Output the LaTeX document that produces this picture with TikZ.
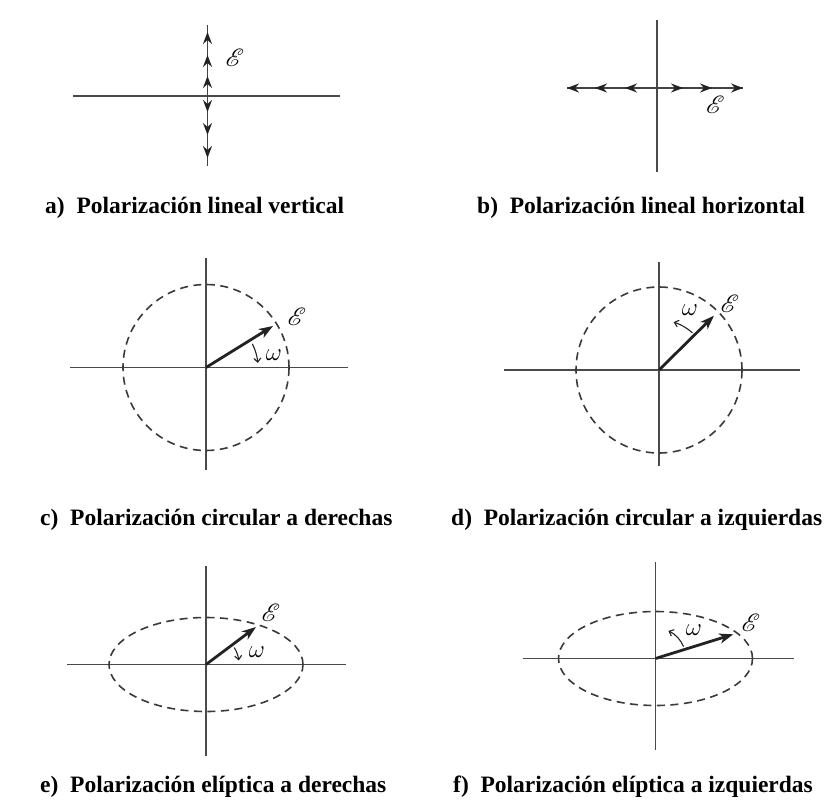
\documentclass[tikz,border=0pt]{standalone}
\usepackage{fontspec}
\setmainfont{Liberation Serif}
\usepackage{mathrsfs}
\usetikzlibrary{arrows.meta}
\definecolor{caxis}{HTML}{4A4A4A}
\definecolor{cdark}{HTML}{222222}
\definecolor{cdash}{HTML}{3A3A3A}
\tikzset{
  axline/.style={caxis, line width=1.9pt},
  fieldline/.style={cdark!85, line width=1.9pt},
  fieldtip/.style={cdark, line width=1.9pt, -{Stealth[length=12pt, width=9pt, inset=4pt]}},
  efield/.style={cdark, line width=2.8pt, -{Stealth[length=14pt, width=10pt, inset=4pt]}},
  orbit/.style={cdash, line width=1.6pt, dash pattern=on 8pt off 5.5pt},
  spin/.style={cdark, line width=1.1pt, -{Straight Barb[length=4pt, width=7pt]}},
  caption/.style={anchor=base west, inner sep=0pt, font=\fontsize{23.5}{28}\selectfont\bfseries},
  lbl/.style={inner sep=0pt, font=\fontsize{28}{28}\selectfont},
}
\begin{document}
\begin{tikzpicture}[x=1pt, y=1pt]
\useasboundingbox (0,0) rectangle (835,-803);

\coordinate (oa) at (207.5,-95.7);
\draw[axline] (73,-95.7) -- (340,-95.7);
\draw[fieldline] (207.5,-25) -- (207.5,-166);
\foreach \t in {32,55,76} \draw[fieldtip] (207.5,-\t-4) -- (207.5,-\t);
\foreach \t in {112,135,158} \draw[fieldtip] (207.5,-\t+4) -- (207.5,-\t);
\node[lbl] (ea) at (235,-58) {$\mathscr{E}$};

\coordinate (ob) at (657,-88);
\draw[axline] (657,-20) -- (657,-172);
\draw[fieldline] (567,-88) -- (743,-88);
\foreach \t in {567,595,625} \draw[fieldtip] (\t+4,-88) -- (\t,-88);
\foreach \t in {683,712,743} \draw[fieldtip] (\t-4,-88) -- (\t,-88);
\node[lbl] (eb) at (715.5,-105) {$\mathscr{E}$};

\coordinate (oc) at (206,-367.5);
\coordinate (tc) at (273,-326);
\draw[axline] (70,-367.5) -- (348,-367.5);
\draw[axline] (206,-258) -- (206,-470);
\draw[orbit] (oc) circle[radius=83];
\draw[efield] (oc) -- (tc);
\draw[spin] (oc) ++(27:52) arc[start angle=27, end angle=5, radius=52];
\node[lbl] (ec) at (297,-317) {$\mathscr{E}$};
\node[lbl] (wc) at (274,-355) {$\omega$};

\coordinate (od) at (659,-370);
\coordinate (td) at (714,-315.7);
\draw[axline] (504,-370) -- (800,-370);
\draw[axline] (659,-262) -- (659,-466);
\draw[orbit] (od) circle[radius=83];
\draw[efield] (od) -- (td);
\draw[spin] (od) ++(48:50) arc[start angle=48, end angle=73, radius=50];
\node[lbl] (ed) at (730,-304) {$\mathscr{E}$};
\node[lbl] (wd) at (690,-310) {$\omega$};

\coordinate (oe) at (206,-664.5);
\coordinate (te) at (256,-627);
\draw[axline] (67,-664.5) -- (346,-664.5);
\draw[axline] (206,-566) -- (206,-756);
\draw[orbit] (oe) ellipse[x radius=97, y radius=47];
\draw[efield] (oe) -- (te);
\draw[spin] (oe) ++(31:33) arc[start angle=31, end angle=7, radius=33];
\node[lbl] (ee) at (271,-613) {$\mathscr{E}$};
\node[lbl] (we) at (257,-652) {$\omega$};

\coordinate (of) at (655.5,-658.5);
\coordinate (tf) at (733.3,-634.3);
\draw[axline] (523,-658.5) -- (794,-658.5);
\draw[axline] (655.5,-562) -- (655.5,-750);
\draw[orbit] (of) ellipse[x radius=97, y radius=47];
\draw[efield] (of) -- (tf);
\draw[spin] (of) ++(23:30.5) arc[start angle=23, end angle=65, radius=30.5];
\node[lbl] (ef) at (751,-623) {$\mathscr{E}$};
\node[lbl] (wf) at (694,-630) {$\omega$};

\node[caption] (capa) at (45,-213) {a)\hspace{0.5em}Polarización lineal vertical};
\node[caption] (capb) at (477,-213) {b)\hspace{0.5em}Polarización lineal horizontal};
\node[caption] (capc) at (40,-525) {c)\hspace{0.5em}Polarización circular a derechas};
\node[caption] (capd) at (451,-525) {d)\hspace{0.5em}Polarización circular a izquierdas};
\node[caption] (cape) at (40,-792) {e)\hspace{0.5em}Polarización elíptica a derechas};
\node[caption] (capf) at (453,-792) {f)\hspace{0.5em}Polarización elíptica a izquierdas};

\end{tikzpicture}
\end{document}
